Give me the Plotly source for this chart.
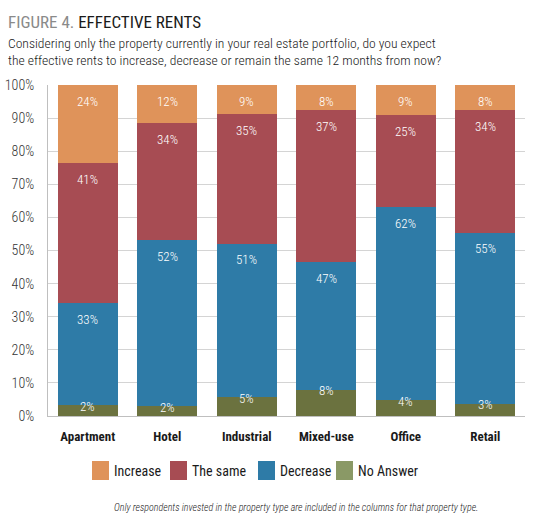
import plotly.graph_objects as go

categories = ["Apartment", "Hotel", "Industrial", "Mixed-use", "Office", "Retail"]
series_names = ["No Answer", "Decrease", "The same", "Increase"]
# segment heights as drawn (percent)
no_answer = [3.2, 2.9, 5.7, 8.0, 4.7, 3.7]
decrease = [30.9, 50.2, 46.4, 38.5, 58.4, 51.6]
the_same = [42.3, 35.4, 39.0, 45.9, 27.7, 37.1]
increase = [23.6, 11.5, 8.9, 7.6, 9.2, 7.6]
# printed labels
lab_no_answer = ["2%", "2%", "5%", "8%", "4%", "3%"]
lab_decrease = ["33%", "52%", "51%", "47%", "62%", "55%"]
lab_the_same = ["41%", "34%", "35%", "37%", "25%", "34%"]
lab_increase = ["24%", "12%", "9%", "8%", "9%", "8%"]
y_ticks = [0, 10, 20, 30, 40, 50, 60, 70, 80, 90, 100]
y_tick_text = [f"{v}%" for v in y_ticks]
legend_order = ["Increase", "The same", "Decrease", "No Answer"]

colors = {"Increase": "#DF935A", "The same": "#A74C53", "Decrease": "#2E7BA7", "No Answer": "#6B723F"}
legend_colors = {"Increase": "#DF935A", "The same": "#A74C53", "Decrease": "#2E7BA7", "No Answer": "#8A9966"}

values = {"No Answer": no_answer, "Decrease": decrease, "The same": the_same, "Increase": increase}
labels = {"No Answer": lab_no_answer, "Decrease": lab_decrease, "The same": lab_the_same, "Increase": lab_increase}

FONT = "Roboto Condensed, DejaVu Sans Condensed, sans-serif"

# plot area geometry (pixels)
W, H = 560, 527
L, R, T, B = 48, 35, 85, 111
PW, PH = W - L - R, H - T - B


def px(x):
    return (x - L) / PW


def py(y):
    return (H - B - y) / PH


fig = go.Figure()
for name in series_names:
    fig.add_trace(go.Bar(x=categories, y=values[name], name=name, showlegend=False,
                         marker=dict(color=colors[name], line=dict(width=0)), hoverinfo="skip"))

annotations = []
cum = [0.0] * len(categories)
for name in series_names:
    for i, c in enumerate(categories):
        top = cum[i] + values[name][i]
        annotations.append(dict(x=c, y=top, xref="x", yref="y", text=labels[name][i], showarrow=False,
                                yanchor="middle", yshift=(-1 if name == "No Answer" else -16),
                                font=dict(family=FONT, size=13, color="white", weight=300)))
        cum[i] = top

annotations += [
    dict(xref="paper", yref="paper", x=px(6), y=py(22), xanchor="left", yanchor="middle",
         text="<span style='color:#8a8a8a'>FIGURE 4.</span> EFFECTIVE RENTS", showarrow=False,
         font=dict(family=FONT, size=17, color="#1a1a1a")),
    dict(xref="paper", yref="paper", x=px(6), y=py(43), xanchor="left", yanchor="middle",
         text="Considering only the property currently in your real estate portfolio, do you expect",
         showarrow=False, font=dict(family=FONT, size=13.6, color="#1a1a1a", weight=300)),
    dict(xref="paper", yref="paper", x=px(6), y=py(60), xanchor="left", yanchor="middle",
         text="the effective rents to increase, decrease or remain the same 12 months from now?",
         showarrow=False, font=dict(family=FONT, size=13.6, color="#1a1a1a", weight=300)),
    dict(xref="paper", yref="paper", x=px(480), y=py(507), xanchor="right", yanchor="middle",
         text="<i>Only respondents invested in the property type are included in the columns for that property type.</i>",
         showarrow=False, font=dict(family=FONT, size=10, color="#1a1a1a", weight=300)),
]

# custom legend (squares + labels)
shapes = []
legend_x = [92, 170, 258, 336]
for name, lx in zip(legend_order, legend_x):
    shapes.append(dict(type="rect", xref="paper", yref="paper", x0=px(lx), x1=px(lx + 17),
                       y0=py(480), y1=py(461), fillcolor=legend_colors[name], line=dict(width=0)))
    annotations.append(dict(xref="paper", yref="paper", x=px(lx + 20), y=py(471), xanchor="left",
                            yanchor="middle", text=name, showarrow=False,
                            font=dict(family=FONT, size=14, color="#1a1a1a")))

fig.update_layout(
    width=W, height=H,
    margin=dict(l=L, r=R, t=T, b=B, autoexpand=False),
    barmode="stack", bargap=0.25,
    plot_bgcolor="white", paper_bgcolor="white",
    annotations=annotations, shapes=shapes,
    showlegend=False,
    xaxis=dict(tickfont=dict(family=FONT, size=13, color="#1a1a1a", weight="bold"), automargin=False,
               showgrid=False, showline=True, linecolor="#bfbfbf", ticks="", ticklabelstandoff=8),
    yaxis=dict(range=[0, 100], tickvals=y_ticks, ticktext=y_tick_text, automargin=False,
               tickfont=dict(family=FONT, size=14, color="#333333", weight=300),
               showgrid=True, gridcolor="#d4d4d4", gridwidth=1, showline=True, linecolor="#bfbfbf",
               zeroline=False, ticks="", ticklabelstandoff=10),
    font=dict(family=FONT),
)

fig.write_html("out.html")
